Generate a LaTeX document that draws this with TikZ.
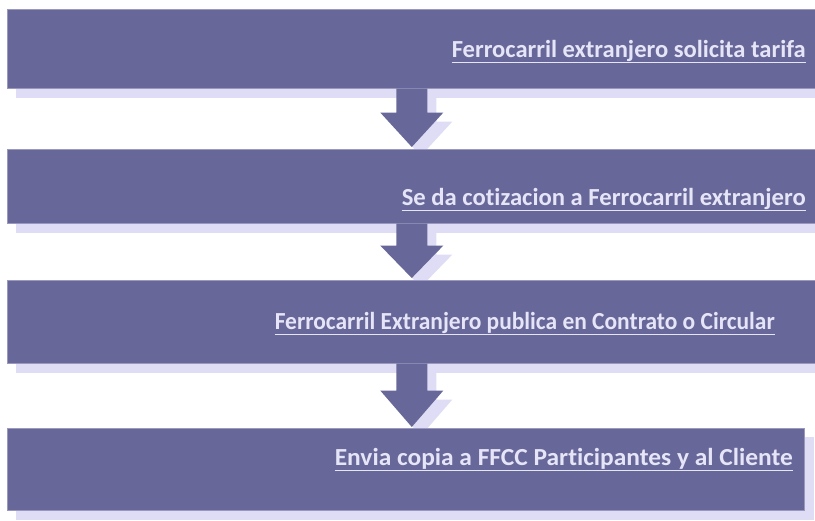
\documentclass[tikz,border=0pt]{standalone}
\usepackage{fontspec}
\usepackage{graphicx}
\setmainfont{Carlito}[Ligatures=NoCommon]
\usetikzlibrary{calc}
\definecolor{boxc}{HTML}{676799}
\definecolor{shadc}{HTML}{DEDDF5}
\definecolor{txtc}{HTML}{E6E5F7}
\definecolor{edgec}{HTML}{9A99BD}
\pgfdeclarelayer{canvas}
\pgfdeclarelayer{background}
\pgfsetlayers{canvas,background,main}
\newcommand\blkarrow[5]{%
  \fill[#1] ($(#2)+(-15.5+#5,#5)$) -- ++(31,0) -- ++(0,#3) -- ++(16,0)
    -- ($(#4)+(#5,#5)$) -- ($(#2)+(-31.5+#5,#3+#5)$) -- ++(16,0) -- cycle;}
\begin{document}
\begin{tikzpicture}[x=1pt,y=-1pt,
  box/.style={rectangle, fill=boxc, draw=edgec, line width=0.6pt, inner sep=0pt, anchor=north west},
  lbl/.style={inner sep=0pt, anchor=base east, text=txtc, font=\fontsize{24.5}{27}\selectfont\bfseries},
  shadowfill/.style={fill=shadc},
  uline/.style={draw=txtc, line width=1.1pt},
  arrowfill/.style={fill=boxc}]
\useasboundingbox (0,0) rectangle (815,521);
\begin{pgfonlayer}{canvas}
\fill[white] (0,0) rectangle (815,521);
\end{pgfonlayer}

% boxes
\node[box, minimum width=809pt, minimum height=79pt] (b1) at (7,9) {};
\node[box, minimum width=809pt, minimum height=74pt] (b2) at (7,149) {};
\node[box, minimum width=809pt, minimum height=83pt] (b3) at (7,280) {};
\node[box, minimum width=797pt, minimum height=82pt] (b4) at (7,428) {};

% arrow end points
\coordinate (a1top) at (b1.south);
\coordinate (a1tip) at ([yshift=2pt]b2.north);
\coordinate (a2top) at (b2.south);
\coordinate (a2tip) at ([yshift=2pt]b3.north);
\coordinate (a3top) at (b3.south);
\coordinate (a3tip) at ([yshift=1pt]b3.south |- b4.north);

% shadows
\begin{pgfonlayer}{background}
  \foreach \b in {b1,b2,b3,b4}
    \fill[shadowfill] ([shift={(9pt,-9pt)}]\b.north west) rectangle ([shift={(9pt,-9pt)}]\b.south east);
  \blkarrow{shadowfill}{a1top}{24}{a1tip}{9}
  \blkarrow{shadowfill}{a2top}{22}{a2tip}{9}
  \blkarrow{shadowfill}{a3top}{27}{a3tip}{9}
\end{pgfonlayer}

% block arrows
\blkarrow{arrowfill}{a1top}{24}{a1tip}{0}
\blkarrow{arrowfill}{a2top}{22}{a2tip}{0}
\blkarrow{arrowfill}{a3top}{27}{a3tip}{0}

% labels
\node[lbl] (t1) at (806,58) {\resizebox{354pt}{\height}{Ferrocarril extranjero solicita tarifa}};
\node[lbl] (t2) at (806,206) {\resizebox{404pt}{\height}{Se da cotizacion a Ferrocarril extranjero}};
\node[lbl] (t3) at (775,330) {\resizebox{500pt}{\height}{Ferrocarril Extranjero publica en Contrato o Circular}};
\node[lbl] (t4) at (793,466) {\resizebox{458pt}{\height}{Envia copia a FFCC Participantes y al Cliente}};
\foreach \t in {t1,t2,t3,t4}
  \draw[uline] ([yshift=-4.5pt]\t.base west) -- ([yshift=-4.5pt]\t.base east);
\end{tikzpicture}
\end{document}
